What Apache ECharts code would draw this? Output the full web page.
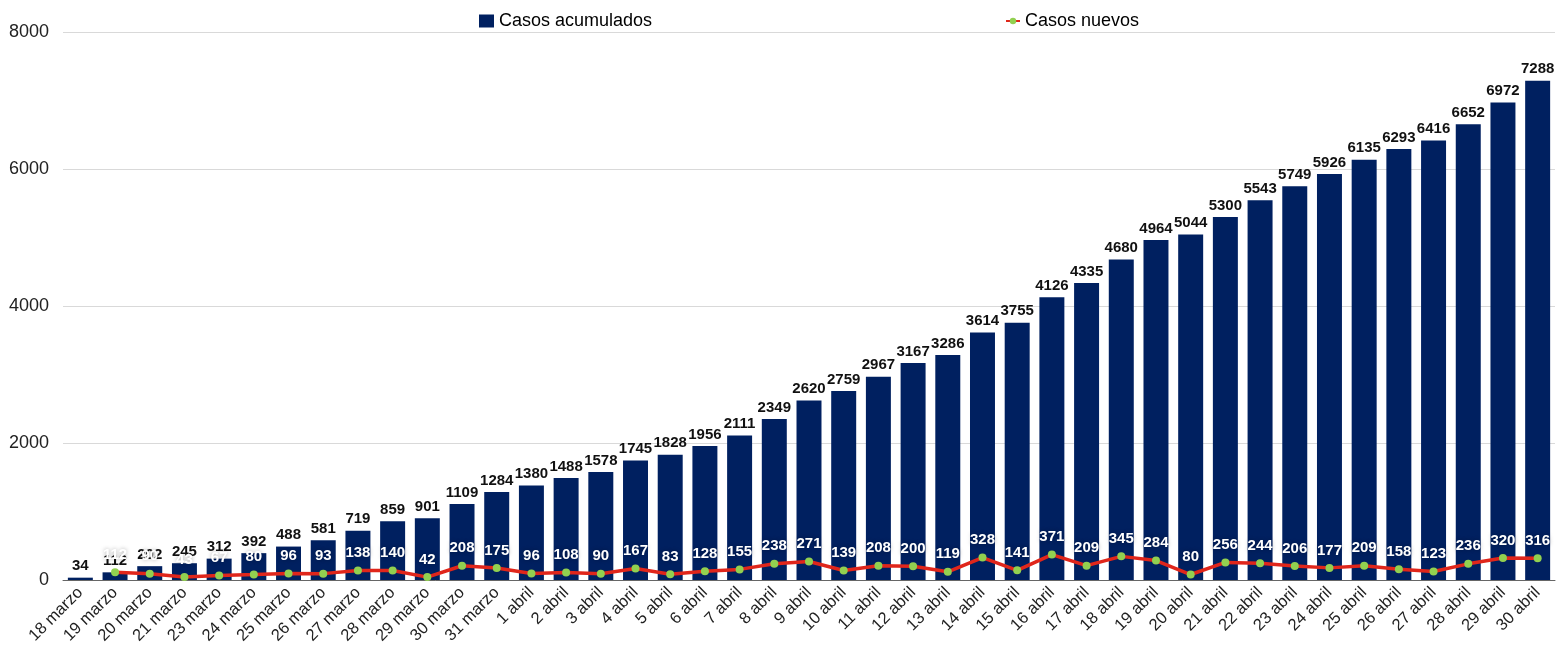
<!DOCTYPE html>
<html>
<head>
<meta charset="utf-8">
<script src="https://cdn.jsdelivr.net/npm/echarts@6/dist/echarts.min.js"></script>
<style>html,body{margin:0;padding:0;background:#fff}#c{width:1564px;height:655px}</style>
</head>
<body>
<div id="c"></div>
<script>
const categories = ['18 marzo','19 marzo','20 marzo','21 marzo','23 marzo','24 marzo','25 marzo','26 marzo','27 marzo','28 marzo','29 marzo','30 marzo','31 marzo',
'1 abril','2 abril','3 abril','4 abril','5 abril','6 abril','7 abril','8 abril','9 abril','10 abril','11 abril','12 abril','13 abril','14 abril','15 abril','16 abril','17 abril','18 abril','19 abril','20 abril','21 abril','22 abril','23 abril','24 abril','25 abril','26 abril','27 abril','28 abril','29 abril','30 abril'];
const casosAcumulados = [34,112,202,245,312,392,488,581,719,859,901,1109,1284,1380,1488,1578,1745,1828,1956,2111,2349,2620,2759,2967,3167,3286,3614,3755,4126,4335,4680,4964,5044,5300,5543,5749,5926,6135,6293,6416,6652,6972,7288];
const casosNuevos = [null,112,90,43,67,80,96,93,138,140,42,208,175,96,108,90,167,83,128,155,238,271,139,208,200,119,328,141,371,209,345,284,80,256,244,206,177,209,158,123,236,320,316];
const yTicks = [0,2000,4000,6000,8000];

const chart = echarts.init(document.getElementById('c'));
chart.setOption({
  animation: false,
  textStyle: { fontFamily: 'Liberation Sans, Arial, sans-serif' },
  grid: { left: 63, right: 9, top: 32, bottom: 75 },
  legend: [
    { data: [{ name: 'Casos acumulados', icon: 'rect' }], left: 474, top: 7, itemWidth: 15, itemHeight: 13, itemGap: 2,
      textStyle: { fontSize: 18, color: '#000' } },
    { data: [{ name: 'Casos nuevos' }], left: 1000, top: 7, itemWidth: 14, itemHeight: 8,
      textStyle: { fontSize: 18, color: '#000' } }
  ],
  xAxis: {
    type: 'category', data: categories,
    axisTick: { show: false },
    axisLine: { lineStyle: { color: '#666', width: 1 } },
    axisLabel: { rotate: 45, fontSize: 16.5, color: '#222', interval: 0, margin: 10 }
  },
  yAxis: {
    type: 'value', min: yTicks[0], max: yTicks[yTicks.length-1], interval: 2000,
    axisLabel: { fontSize: 18, color: '#222', margin: 14, formatter: v => String(v) },
    splitLine: { lineStyle: { color: '#d9d9d9' } },
    axisLine: { show: false }, axisTick: { show: false }
  },
  series: [
    { name: 'Casos acumulados', type: 'bar', data: casosAcumulados, barCategoryGap: '28%',
      itemStyle: { color: '#002060' },
      label: { show: true, position: 'top', distance: 4, fontSize: 15, fontWeight: 'bold', color: '#111' } },
    { name: 'Casos nuevos', type: 'line', data: casosNuevos, symbol: 'circle', symbolSize: 8,
      lineStyle: { color: '#e0261b', width: 3.5 },
      itemStyle: { color: '#92d050', borderWidth: 0 },
      label: { show: true, position: 'top', distance: 6, fontSize: 15, fontWeight: 'bold', color: '#fff',
        textShadowColor: 'rgba(0,0,0,0.35)', textShadowBlur: 4 } }
  ]
});
</script>
</body>
</html>
